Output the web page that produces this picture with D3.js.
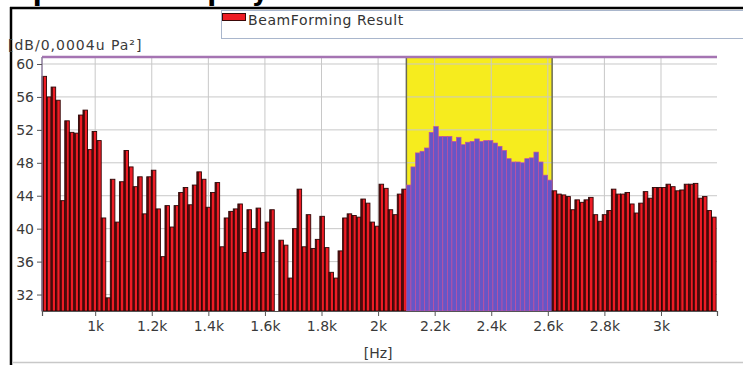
<!DOCTYPE html>
<html>
<head>
<meta charset="utf-8">
<script src="https://cdn.jsdelivr.net/npm/d3@7"></script>
<style>
  body { margin: 0; background: #fff; }
  svg { display: block; font-family: "DejaVu Sans", Verdana, sans-serif; }
</style>
</head>
<body>
<script>
// spectrum levels in dB, one bin per bar (null = no value)
const spectrumLow = [
  58.5, 56.0, 57.2, 55.6, 43.4, 53.1, 51.7, 51.6, 53.8, 54.4,
  49.6, 51.8, 50.7, 41.3, 31.6, 46.0, 40.8, 45.7, 49.5, 47.5,
  45.1, 46.3, 41.8, 46.3, 47.1, 42.4, 36.6, 42.8, 40.2, 42.8,
  44.4, 45.0, 42.9, 45.3, 46.9, 46.0, 42.6, 44.4, 45.6, 37.8,
  41.3, 42.1, 42.4, 43.0, 37.1, 42.3, 40.0, 42.5, 37.1, 40.8,
  42.3, null, 38.6, 38.0, 34.0, 40.0, 44.8, 37.8, 41.7, 37.6,
  38.7, 41.5, 37.7, 34.7, 34.0, 37.3, 41.3, 41.8, 41.6, 41.4,
  43.6, 43.1, 40.8, 40.3, 45.4, 44.9, 42.3, 41.7, 44.2, 44.8
];
const spectrumBeam = [
  45.3, 47.5, 49.2, 49.4, 49.8, 51.7, 52.4, 51.2, 51.2, 51.2,
  50.6, 51.1, 50.2, 50.5, 50.6, 50.9, 50.6, 50.7, 50.7, 50.4,
  50.0, 49.5, 48.5, 48.1, 48.1, 48.0, 48.5, 48.6, 49.3, 48.1,
  46.5, 45.9
];
const spectrumHigh = [
  44.6, 44.2, 44.1, 43.9, 42.3, 43.5, 43.2, 43.5, 43.8, 41.7,
  40.9, 41.7, 42.2, 44.8, 44.2, 44.2, 44.4, 43.0, 41.9, 43.1,
  44.5, 43.7, 45.0, 45.0, 45.0, 45.4, 45.1, 44.6, 44.7, 45.4,
  45.4, 45.5, 43.7, 43.9, 42.2, 41.4
];
const startFreq = 812;   // Hz, first bin
const binWidth = 16.1;   // Hz per bin
const xTicks = [1000, 1200, 1400, 1600, 1800, 2000, 2200, 2400, 2600, 2800, 3000];
const yTicks = [32, 36, 40, 44, 48, 52, 56, 60];
const legendLabel = "BeamForming Result";
const yUnit = "[dB/0,0004u Pa\u00b2]";
const xUnit = "[Hz]";

const width = 743, height = 365;
const plot = {left: 42, right: 717, top: 57, bottom: 311};

const svg = d3.select("body").append("svg")
  .attr("width", width)
  .attr("height", height);

// dark left edge, bright red face, like the original bar shading
const grad = svg.append("defs").append("linearGradient")
  .attr("id", "redbar").attr("x1", 0).attr("x2", 1).attr("y1", 0).attr("y2", 0);
grad.append("stop").attr("offset", "0%").attr("stop-color", "#5a0c0c");
grad.append("stop").attr("offset", "38%").attr("stop-color", "#5a0c0c");
grad.append("stop").attr("offset", "42%").attr("stop-color", "#ee1c25");
grad.append("stop").attr("offset", "100%").attr("stop-color", "#ee1c25");

const x = d3.scaleLinear().domain([812, 3198]).range([plot.left, plot.right]);
const y = d3.scaleLinear().domain([30, 60.85]).range([plot.bottom, plot.top]);

const nLow = spectrumLow.length, nBeam = spectrumBeam.length;
const bars = [
  ...spectrumLow.map((v, i) => ({i, v, beam: false})),
  ...spectrumBeam.map((v, i) => ({i: nLow + i, v, beam: true})),
  ...spectrumHigh.map((v, i) => ({i: nLow + nBeam + i, v, beam: false}))
];
const binX = i => x(startFreq + i * binWidth);

// outer frame (title is cut by the top edge in the source screenshot)
svg.append("text")
  .attr("x", 14).attr("y", 0)
  .attr("font-size", 26).attr("font-weight", "bold")
  .attr("fill", "#000")
  .text("Spectrum display");
svg.append("line").attr("x1", 10).attr("x2", width).attr("y1", 8).attr("y2", 8)
  .attr("stroke", "#000").attr("stroke-width", 2.5);
svg.append("line").attr("x1", 11).attr("x2", 11).attr("y1", 7).attr("y2", height)
  .attr("stroke", "#000").attr("stroke-width", 2.5);
svg.append("line").attr("x1", 12).attr("x2", width).attr("y1", 362.5).attr("y2", 362.5)
  .attr("stroke", "#c8c8c8").attr("stroke-width", 1.5);

// legend
const legend = svg.append("g");
legend.append("rect")
  .attr("x", 221.5).attr("y", 10.5).attr("width", 540).attr("height", 28)
  .attr("fill", "#fff").attr("stroke", "#a9b6cc");
legend.append("rect")
  .attr("x", 222.5).attr("y", 13.5).attr("width", 23).attr("height", 7)
  .attr("fill", "#ee1c25").attr("stroke", "#3a0808");
legend.append("text")
  .attr("x", 248).attr("y", 25)
  .attr("font-size", 14).attr("letter-spacing", 0.6).attr("fill", "#333")
  .text(legendLabel);

// highlighted beamforming band
const bandLo = binX(nLow), bandHi = binX(nLow + nBeam);
svg.append("rect")
  .attr("x", bandLo).attr("y", plot.top)
  .attr("width", bandHi - bandLo).attr("height", plot.bottom - plot.top)
  .attr("fill", "#f6ec1e");

// grid
svg.append("g")
  .selectAll("line.v").data(xTicks).join("line")
  .attr("x1", d => x(d)).attr("x2", d => x(d))
  .attr("y1", plot.top).attr("y2", plot.bottom)
  .attr("stroke", "#c8c8c8");
svg.append("g")
  .selectAll("line.h").data(yTicks).join("line")
  .attr("x1", plot.left).attr("x2", plot.right)
  .attr("y1", d => y(d)).attr("y2", d => y(d))
  .attr("stroke", "#c8c8c8");

// band edges
svg.append("g").selectAll("line").data([bandLo, bandHi]).join("line")
  .attr("x1", d => d).attr("x2", d => d)
  .attr("y1", plot.top).attr("y2", plot.bottom)
  .attr("stroke", "#6a6a55").attr("stroke-width", 1.5);

// bars
svg.append("g")
  .selectAll("rect")
  .data(bars.filter(d => d.v != null))
  .join("rect")
  .attr("x", d => binX(d.i))
  .attr("width", d => binX(d.i + 1) - binX(d.i))
  .attr("y", d => y(d.v))
  .attr("height", d => plot.bottom - y(d.v))
  .attr("fill", d => d.beam ? "#6656c6" : "url(#redbar)")
  .attr("stroke", d => d.beam ? "#c44ea2" : "#2e0606")
  .attr("stroke-width", d => d.beam ? 0.7 : 0.9);

// plot borders
svg.append("line").attr("x1", plot.left).attr("x2", plot.right)
  .attr("y1", plot.top).attr("y2", plot.top)
  .attr("stroke", "#a574b2").attr("stroke-width", 2.5);
svg.append("line").attr("x1", plot.left).attr("x2", plot.left)
  .attr("y1", plot.top).attr("y2", plot.bottom)
  .attr("stroke", "#8c7c9c").attr("stroke-width", 1.5);

// axes
const xAxis = svg.append("g")
  .attr("transform", `translate(0,${plot.bottom})`)
  .call(d3.axisBottom(x).tickValues(xTicks).tickSize(5).tickPadding(5)
    .tickFormat(d => (d / 1000) + "k"));
const yAxis = svg.append("g")
  .attr("transform", `translate(${plot.left},0)`)
  .call(d3.axisLeft(y).tickValues(yTicks).tickSize(5).tickPadding(3));
[xAxis, yAxis].forEach(g => {
  g.select(".domain").attr("stroke", "#555").attr("stroke-width", 1.2);
  g.selectAll(".tick line").attr("stroke", "#555");
  g.selectAll(".tick text").attr("font-size", 14).attr("fill", "#3a3a3a")
    .attr("font-family", "DejaVu Sans, Verdana, sans-serif");
});
yAxis.select(".domain").remove();
svg.append("text")
  .attr("x", 8).attr("y", 50)
  .attr("font-size", 14).attr("letter-spacing", 1).attr("fill", "#3a3a3a")
  .text(yUnit);
svg.append("text")
  .attr("x", x(2000)).attr("y", 358).attr("text-anchor", "middle")
  .attr("font-size", 14).attr("fill", "#3a3a3a")
  .text(xUnit);
</script>
</body>
</html>
